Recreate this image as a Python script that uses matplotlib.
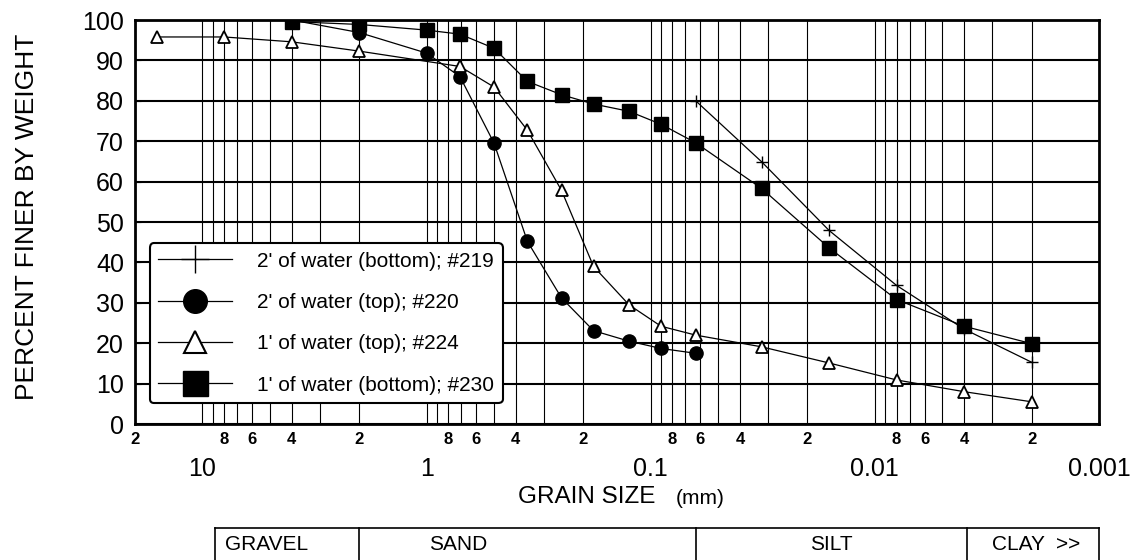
import matplotlib.pyplot as plt
from matplotlib.lines import Line2D
from matplotlib.ticker import FixedLocator, FuncFormatter

plt.rcParams['font.family'] = ['Liberation Sans', 'DejaVu Sans']

# grain size (mm) vs percent finer
size_219 = [0.063, 0.032, 0.016, 0.008, 0.004, 0.002]
pct_219 = [80.0, 64.9, 47.9, 34.3, 23.5, 15.3]

size_220 = [4, 2, 1, 0.71, 0.5, 0.355, 0.25, 0.18, 0.125, 0.09, 0.063]
pct_220 = [100.0, 96.9, 91.8, 86.0, 69.5, 45.2, 31.2, 23.1, 20.5, 18.7, 17.5]

size_224 = [16, 8, 4, 2, 0.71, 0.5, 0.355, 0.25, 0.18, 0.125, 0.09, 0.063,
            0.032, 0.016, 0.008, 0.004, 0.002]
pct_224 = [95.8, 95.8, 94.6, 92.3, 88.5, 83.4, 72.7, 57.8, 39.0, 29.5, 24.2, 22.0,
           19.1, 15.1, 10.9, 8.0, 5.5]

size_230 = [4, 2, 1, 0.71, 0.5, 0.355, 0.25, 0.18, 0.125, 0.09, 0.063,
            0.032, 0.016, 0.008, 0.004, 0.002]
pct_230 = [99.6, 98.9, 97.5, 96.5, 93.0, 84.8, 81.5, 79.2, 77.4, 74.2, 69.6,
           58.3, 43.6, 30.8, 24.2, 19.9]

labels = ["2' of water (bottom); #219", "2' of water (top); #220",
          "1' of water (top); #224", "1' of water (bottom); #230"]

major_x = [10, 1, 0.1, 0.01, 0.001]
major_x_labels = ['10', '1', '0.1', '0.01', '0.001']

# soil classes and their boundaries (mm)
classes = ['GRAVEL', 'SAND', 'SILT', 'CLAY  >>']
class_edges = [8.8, 2, 0.0625, 0.0039, 0.001]
class_label_x = [5.2, 0.72, 0.0156, 0.0019]

W, H = 1138, 560
fig = plt.figure(figsize=(W / 100, H / 100), dpi=100)
ax = fig.add_axes([135 / W, 1 - 424 / H, 964 / W, 404 / H])
ax.set_xscale('log')
ax.set_xlim(20, 0.001)
ax.set_ylim(0, 100)

ax.plot(size_219, pct_219, color='k', lw=0.9, marker='+', ms=9, mew=1.0, zorder=3)
ax.plot(size_220, pct_220, color='k', lw=0.9, marker='o', ms=9.5, zorder=3)
ax.plot(size_224, pct_224, color='k', lw=0.9, marker='^', ms=8.5, mfc='white', mew=1.3, zorder=3)
ax.plot(size_230, pct_230, color='k', lw=0.9, marker='s', ms=10, zorder=3)

# grid
ax.set_yticks(range(0, 101, 10))
ax.grid(axis='y', color='k', lw=1.5)
grid_x = [m * 10.0 ** e for e in range(-3, 2) for m in range(1, 10)
          if 0.001 < m * 10.0 ** e < 20]
for gx in grid_x:
    ax.axvline(gx, color='k', lw=0.8, zorder=1)

ax.xaxis.set_major_locator(FixedLocator(major_x))
ax.set_xticklabels(major_x_labels, fontsize=18)
minor_x = [m * 10.0 ** e for e in range(-3, 2) for m in (2, 4, 6, 8)
           if 0.001 < m * 10.0 ** e <= 20]
ax.xaxis.set_minor_locator(FixedLocator(minor_x))
ax.xaxis.set_minor_formatter(FuncFormatter(lambda v, p: '%d' % round(v / 10 ** int(('%e' % v).split('e')[1]))))
ax.tick_params(axis='x', which='major', length=0, pad=24)
ax.tick_params(axis='x', which='minor', length=0, pad=6, labelsize=12)
for t in ax.xaxis.get_minorticklabels():
    t.set_fontweight('bold')
ax.tick_params(axis='y', labelsize=18, length=4, direction='in', pad=8)
for s in ax.spines.values():
    s.set_linewidth(2)

handles = [
    Line2D([], [], color='k', lw=0.9, marker='+', ms=20, mew=1.0),
    Line2D([], [], color='k', lw=0.9, marker='o', ms=17),
    Line2D([], [], color='k', lw=0.9, marker='^', ms=16, mfc='white', mew=1.5),
    Line2D([], [], color='k', lw=0.9, marker='s', ms=18),
]
leg = ax.legend(handles, labels, loc='lower left', bbox_to_anchor=(0.0156, 0.052),
                fontsize=15, frameon=True, fancybox=True, edgecolor='k', framealpha=1,
                handlelength=3.55, handletextpad=1.2, labelspacing=1.07,
                borderpad=0.4, borderaxespad=0)
leg.get_frame().set_linewidth(1.5)
leg.set_zorder(5)

fig.text(27 / W, 1 - 217 / H, 'PERCENT FINER BY WEIGHT', rotation=90,
         ha='center', va='center', fontsize=19)
fig.text(518 / W, 1 - 497 / H, 'GRAIN SIZE', ha='left', va='center', fontsize=17.5)
fig.text(676 / W, 1 - 499 / H, '(mm)', ha='left', va='center', fontsize=15)

# classification strip
tax = fig.add_axes([135 / W, 0, 964 / W, 32 / H])
tax.set_xscale('log')
tax.set_xlim(20, 0.001)
tax.set_ylim(0, 1)
tax.axis('off')
tax.plot([class_edges[0], class_edges[-1]], [1, 1], color='k', lw=1.2, clip_on=False)
for ex in class_edges:
    tax.plot([ex, ex], [0, 1], color='k', lw=1.2, clip_on=False)
for name, lx in zip(classes, class_label_x):
    tax.text(lx, 0.5, name, ha='center', va='center', fontsize=15)

fig.savefig('out.png', dpi=100)
